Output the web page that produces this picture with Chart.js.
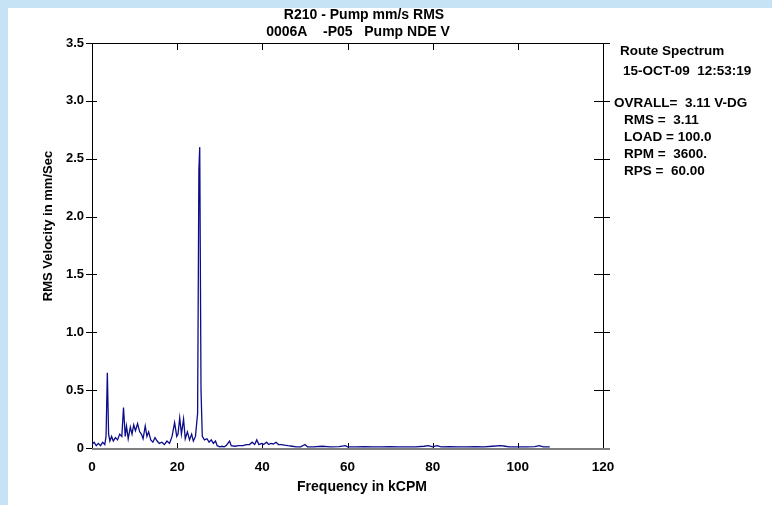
<!DOCTYPE html>
<html>
<head>
<meta charset="utf-8">
<script src="https://cdn.jsdelivr.net/npm/chart.js@4.4.0/dist/chart.umd.min.js"></script>
<style>
  html, body { margin: 0; padding: 0; background: #c6e2f5; }
  #spectrum { position: absolute; left: 0; top: 0; }
</style>
</head>
<body>
<canvas id="spectrum" width="772" height="505"></canvas>
<script>
// frequency in kCPM
const freq = [
	0, 0.5, 1.0, 1.5, 2.0, 2.5, 3.0, 3.3, 3.6, 3.9, 4.2, 4.6, 5.0, 5.5, 6.0, 6.5, 7.0, 7.4, 7.8,
	8.1, 8.5, 9.0, 9.4, 9.8, 10.2, 10.7, 11.2, 11.6, 12.0, 12.5, 12.9, 13.3, 13.8, 14.3, 14.8,
	15.3, 15.8, 16.4, 17.0, 17.6, 18.2, 18.8, 19.4, 19.9, 20.2, 20.6, 21.0, 21.5, 21.9, 22.4,
	22.9, 23.4, 23.8, 24.3, 24.8, 25.1, 25.3, 25.6, 25.9, 26.4, 27.0, 27.5, 28.0, 28.5, 29.0,
	29.4, 30, 30.5, 31, 31.5, 32.3, 32.7, 33.5, 34.5, 35.5, 36.2, 37, 37.6, 38.2, 38.7, 39.2,
	39.8, 40.3, 41, 41.5, 42, 42.6, 43.2, 43.8, 44.5, 45.2, 46, 47, 48, 49, 50, 50.6, 52, 54,
	56, 58, 59.5, 60, 62, 64, 66, 68, 70, 72, 74, 76, 78, 79, 80, 81, 82, 84, 86, 88, 90, 92,
	94, 96, 97, 98, 100, 102, 104, 105, 106, 107.5
];
// RMS velocity, mm/s
const amp = [
	0.03, 0.05, 0.02, 0.04, 0.02, 0.05, 0.03, 0.10, 0.65, 0.12, 0.06, 0.10, 0.06, 0.09, 0.07, 0.12, 0.10, 0.35, 0.10,
	0.19, 0.08, 0.18, 0.12, 0.20, 0.15, 0.21, 0.14, 0.12, 0.08, 0.19, 0.10, 0.14, 0.07, 0.05, 0.09,
	0.06, 0.04, 0.05, 0.03, 0.06, 0.04, 0.10, 0.22, 0.10, 0.12, 0.26, 0.12, 0.25, 0.08, 0.14,
	0.07, 0.12, 0.06, 0.10, 0.30, 2.40, 2.60, 0.50, 0.10, 0.07, 0.08, 0.05, 0.07, 0.04, 0.06,
	0.02, 0.01, 0.015, 0.01, 0.02, 0.06, 0.02, 0.015, 0.02, 0.02, 0.03, 0.03, 0.05, 0.03, 0.07, 0.03,
	0.04, 0.03, 0.05, 0.03, 0.04, 0.035, 0.05, 0.03, 0.03, 0.025, 0.02, 0.015, 0.01, 0.01, 0.03, 0.01, 0.01, 0.015,
	0.01, 0.012, 0.02, 0.01, 0.01, 0.012, 0.01, 0.01, 0.012, 0.01, 0.01, 0.01, 0.015, 0.02, 0.01, 0.02, 0.01, 0.012, 0.01, 0.01, 0.012, 0.01,
	0.015, 0.02, 0.015, 0.01, 0.01, 0.01, 0.012, 0.02, 0.01, 0.01
];

const xTicks = [0, 20, 40, 60, 80, 100, 120];
const yTicks = [0, 0.5, 1.0, 1.5, 2.0, 2.5, 3.0, 3.5];

const titleLines = ['R210 - Pump mm/s RMS', '0006A    -P05   Pump NDE V'];
const sideLines = [
	['Route Spectrum', 620, 51],
	['15-OCT-09  12:53:19', 623, 71],
	['OVRALL=  3.11 V-DG', 614, 103],
	['RMS =  3.11', 624, 120],
	['LOAD = 100.0', 624, 137],
	['RPM =  3600.', 624, 154],
	['RPS =  60.00', 624, 171]
];

const FONT = 'Liberation Sans, Arial, sans-serif';

const points = freq.map((f, i) => ({ x: f, y: amp[i] }));

// background, frame and free text
const decor = {
	id: 'decor',
	beforeDraw(chart) {
		const c = chart.ctx;
		c.save();
		c.fillStyle = '#c6e2f5';
		c.fillRect(0, 0, chart.width, chart.height);
		c.fillStyle = '#ffffff';
		c.fillRect(8, 8, chart.width - 8, chart.height - 8);
		c.restore();
	},
	beforeDatasetsDraw(chart) {
		const c = chart.ctx;
		const a = chart.chartArea;
		const xs = chart.scales.x, ys = chart.scales.y;
		c.save();
		c.strokeStyle = '#000';
		c.lineWidth = 1;
		c.beginPath();
		c.moveTo(a.left + 0.5, a.top); c.lineTo(a.left + 0.5, a.bottom);
		c.moveTo(a.right + 0.5, a.top); c.lineTo(a.right + 0.5, a.bottom);
		c.moveTo(a.left, a.top + 0.5); c.lineTo(a.right + 7, a.top + 0.5);
		yTicks.forEach(v => {
			const y = Math.round(ys.getPixelForValue(v)) + 0.5;
			c.moveTo(a.left - 6, y); c.lineTo(a.left + 5, y);
			c.moveTo(a.right - 9, y); c.lineTo(a.right + 7, y);
		});
		xTicks.forEach(v => {
			const x = Math.round(xs.getPixelForValue(v)) + 0.5;
			c.moveTo(x, a.top); c.lineTo(x, a.top + 7);
			c.moveTo(x, a.bottom); c.lineTo(x, a.bottom - 5);
		});
		c.stroke();
		c.strokeStyle = '#808080';
		c.lineWidth = 2;
		c.beginPath();
		c.moveTo(a.left, a.bottom + 1); c.lineTo(a.right + 7, a.bottom + 1);
		c.stroke();

		c.fillStyle = '#000';
		c.textBaseline = 'middle';
		c.textAlign = 'center';
		c.font = 'bold 14px ' + FONT;
		c.fillText(titleLines[0], 364, 15);
		c.fillText(titleLines[1], 358, 32);
		c.fillText('Frequency in kCPM', 362, 487);
		c.font = 'bold 13.5px ' + FONT;
		c.textAlign = 'left';
		sideLines.forEach(s => c.fillText(s[0], s[1], s[2]));
		c.translate(48, 226);
		c.rotate(-Math.PI / 2);
		c.textAlign = 'center';
		c.font = 'bold 13px ' + FONT;
		c.fillText('RMS Velocity in mm/Sec', 0, 0);
		c.restore();
	}
};

const config = {
	type: 'scatter',
	data: {
		datasets: [{
			data: points,
			showLine: true,
			borderColor: '#0c0c8a',
			borderWidth: 1.3,
			pointRadius: 0,
			tension: 0
		}]
	},
	plugins: [decor],
	options: {
		responsive: false,
		animation: false,
		devicePixelRatio: 1,
		layout: { padding: { left: 0, top: 43, right: 169, bottom: 0 } },
		plugins: {
			legend: { display: false },
			tooltip: { enabled: false }
		},
		scales: {
			x: {
				type: 'linear',
				min: 0,
				max: 120,
				afterBuildTicks: s => { s.ticks = xTicks.map(v => ({ value: v })); },
				afterFit: s => { s.height = 57; },
				ticks: {
					color: '#000',
					padding: 11,
					maxRotation: 0,
					font: { family: FONT, size: 13.5, weight: 'bold' }
				},
				grid: { display: false, drawTicks: false },
				border: { display: false }
			},
			y: {
				min: 0,
				max: 3.5,
				afterBuildTicks: s => { s.ticks = yTicks.map(v => ({ value: v })); },
				afterFit: s => { s.width = 92; },
				ticks: {
					color: '#000',
					padding: 8,
					callback: v => v === 0 ? '0' : v.toFixed(1),
					font: { family: FONT, size: 13, weight: 'bold' }
				},
				grid: { display: false, drawTicks: false },
				border: { display: false }
			}
		}
	}
};

new Chart(document.getElementById('spectrum'), config);
</script>
</body>
</html>
